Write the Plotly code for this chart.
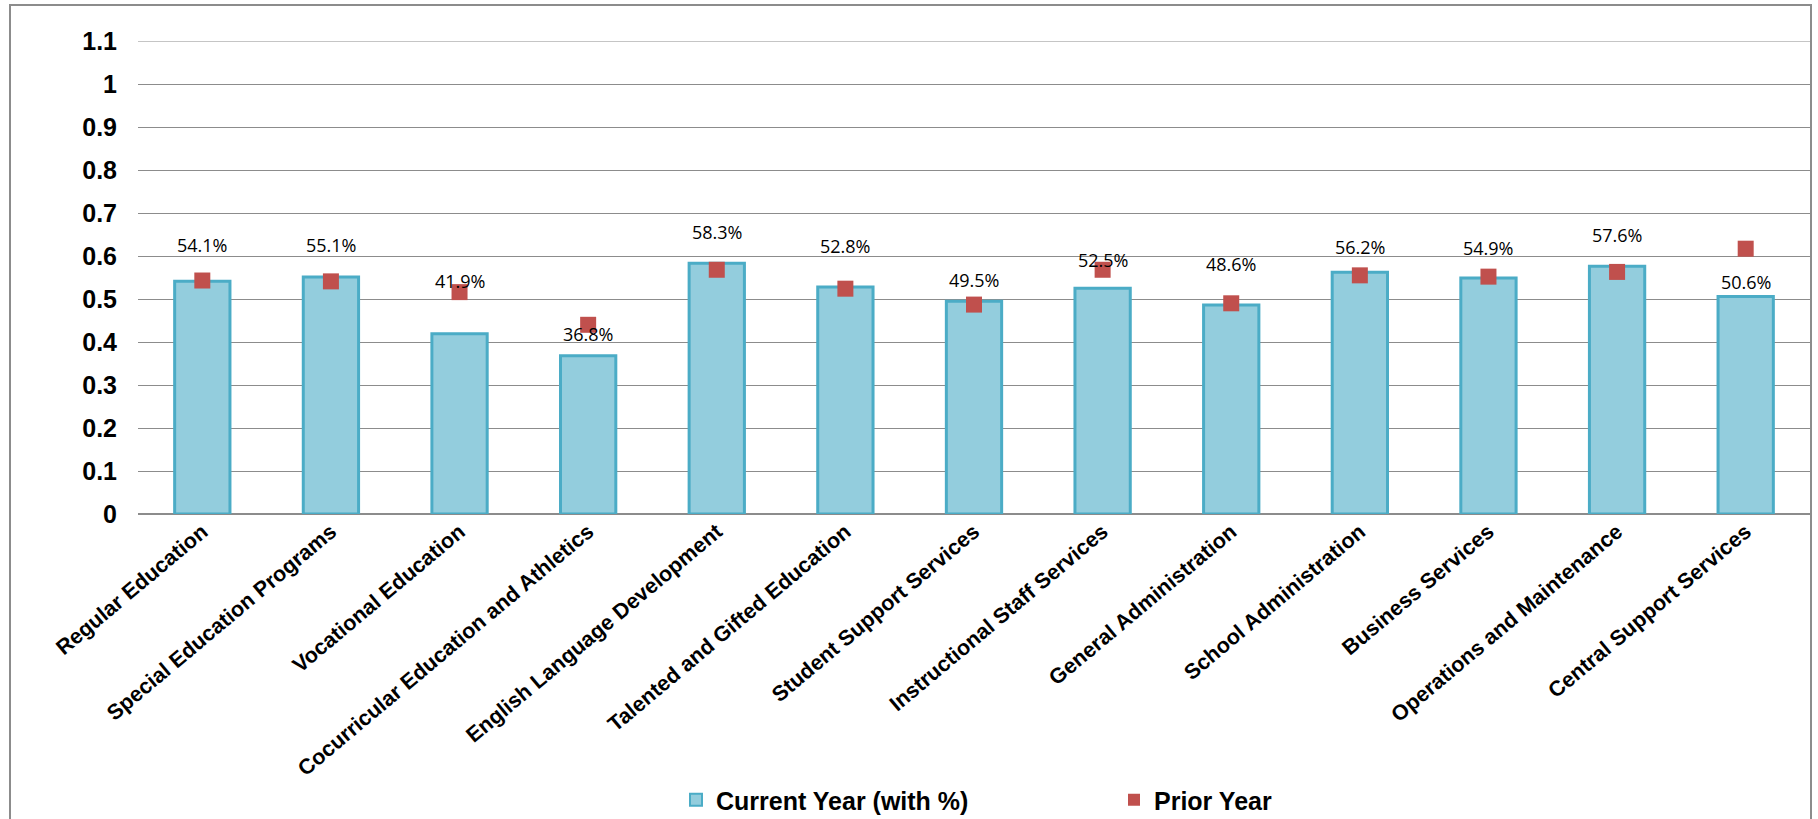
import plotly.graph_objects as go

categories = [
    "Regular Education", "Special Education Programs", "Vocational Education",
    "Cocurricular Education and Athletics", "English Language Development",
    "Talented and Gifted Education", "Student Support Services",
    "Instructional Staff Services", "General Administration",
    "School Administration", "Business Services", "Operations and Maintenance",
    "Central Support Services",
]
current_year = [0.541, 0.551, 0.419, 0.368, 0.583, 0.528, 0.495, 0.525, 0.486, 0.562, 0.549, 0.576, 0.506]
prior_year = [0.543, 0.541, 0.516, 0.440, 0.568, 0.524, 0.487, 0.568, 0.490, 0.555, 0.552, 0.563, 0.617]
y_ticks = [0, 0.1, 0.2, 0.3, 0.4, 0.5, 0.6, 0.7, 0.8, 0.9, 1, 1.1]
y_tick_labels = ["0", "0.1", "0.2", "0.3", "0.4", "0.5", "0.6", "0.7", "0.8", "0.9", "1", "1.1"]

# label offsets above bar tops (style, pixels)
label_shift = [36, 32, 53, 22, 31, 41, 21, 28, 41, 25, 30, 31, 14]

W, H = 1818, 819
L, R, T, B = 138, 8, 41, 305
pw = W - L - R
ph = H - T - B
base = T + ph  # pixel y of the x axis


def py(pix):
    return (base - pix) / ph


def px(pix):
    return (pix - L) / pw


fig = go.Figure()
fig.add_trace(go.Bar(
    x=categories, y=current_year, name="Current Year (with %)",
    marker=dict(color="#93CDDD", line=dict(color="#4BACC6", width=3)),
    width=0.43,
))
fig.add_trace(go.Scatter(
    x=categories, y=prior_year, name="Prior Year", mode="markers",
    marker=dict(symbol="square", size=16, color="#C0504D"),
))

for c, v, s in zip(categories, current_year, label_shift):
    fig.add_annotation(x=c, y=v, text=f"{v*100:.1f}%", showarrow=False,
                       yshift=s, font=dict(family="Open Sans", size=18, color="#000"))

# chart border
fig.add_shape(type="rect", xref="paper", yref="paper",
              x0=px(10), x1=px(1811), y0=py(840), y1=py(5),
              line=dict(color="#8C8C8C", width=2), fillcolor="rgba(0,0,0,0)", layer="below")
# top gridline at 1.1
fig.add_shape(type="line", xref="paper", yref="y", x0=0, x1=1, y0=1.1, y1=1.1,
              line=dict(color="#8C8C8C", width=1), layer="below")

fig.update_layout(
    width=W, height=H, autosize=False,
    margin=dict(l=L, r=R, t=T, b=B),
    paper_bgcolor="white", plot_bgcolor="white",
    font=dict(family="Liberation Sans, Arial", color="#000"),
    showlegend=True,
    legend=dict(orientation="h", x=px(676), xanchor="left",
                yref="container", y=(H - 800) / H, yanchor="middle",
                font=dict(family="Liberation Sans, Arial", size=25, color="#000", weight="bold"),
                entrywidth=393, itemsizing="constant", bgcolor="rgba(0,0,0,0)",
                borderwidth=0, tracegroupgap=0),
    xaxis=dict(tickangle=-40, tickfont=dict(size=21.5, family="Liberation Sans, Arial", weight="bold"),
               showgrid=False, showline=False, ticks="", range=[-0.5, 12.5], automargin=False),
    yaxis=dict(range=[0, 1.1], tickvals=y_ticks, ticktext=y_tick_labels,
               showgrid=True, gridcolor="#8C8C8C", gridwidth=1,
               zeroline=True, zerolinecolor="#8C8C8C", zerolinewidth=2,
               tickfont=dict(size=25, family="Liberation Sans, Arial", weight="bold"),
               ticklabelstandoff=20, automargin=False),
)
fig.write_html("out.html")
